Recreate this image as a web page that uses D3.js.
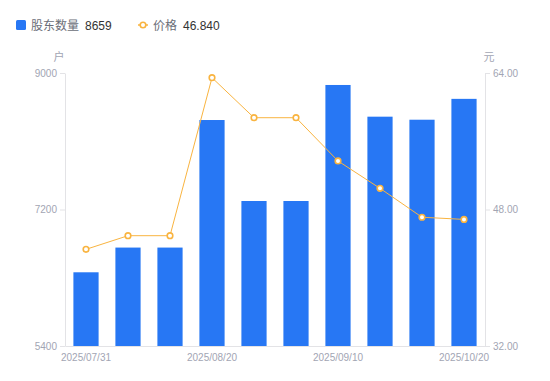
<!DOCTYPE html>
<html>
<head>
<meta charset="utf-8">
<script src="https://cdn.jsdelivr.net/npm/d3@7"></script>
<style>
  body { margin: 0; background: #fff; }
  text { font-family: "Liberation Sans", "Noto Sans CJK SC", sans-serif; }
</style>
</head>
<body>
<div id="chart"></div>
<script>
// Holder count (bars) vs share price (line), dual axis

const dates = ["2025/07/31", "2025/08/08", "2025/08/10", "2025/08/20", "2025/08/29",
  "2025/08/31", "2025/09/10", "2025/09/19", "2025/09/30", "2025/10/20"];
const holders = [6372, 6698, 6698, 8380, 7312, 7312, 8842, 8424, 8384, 8659];
const prices = [43.33, 44.93, 44.93, 63.45, 58.76, 58.76, 53.69, 50.48, 47.09, 46.84];
const leftTicks = [5400, 7200, 9000];
const rightTicks = [32, 48, 64];
const shownDates = ["2025/07/31", "2025/08/20", "2025/09/10", "2025/10/20"];

const w = 550, h = 381;
const pT = 73, pR = 65, pB = 35, pL = 65; // padding, clockwise from top

const barColor = "#2777f4";
const lineColor = "#f9b440";
const axisColor = "#e3e3e6";
const labelColor = "#a2a5b3";

const svg = d3.select("#chart").append("svg")
  .attr("width", w)
  .attr("height", h);

// Scales
const x = d3.scaleBand()
  .domain(dates)
  .range([pL, w - pR])
  .paddingInner(0.4)
  .paddingOuter(0.2);

const yL = d3.scaleLinear().domain([5400, 9000]).range([h - pB, pT]);
const yR = d3.scaleLinear().domain([32, 64]).range([h - pB, pT]);

// Bars
svg.append("g").selectAll("rect")
  .data(holders)
  .enter()
  .append("rect")
  .attr("x", (d, i) => x(dates[i]))
  .attr("y", d => yL(d))
  .attr("width", x.bandwidth())
  .attr("height", d => yL(5400) - yL(d))
  .attr("fill", barColor);

// Axes
function styleAxis(g) {
  g.selectAll(".domain").attr("stroke", axisColor);
  g.selectAll(".tick line").attr("stroke", axisColor);
  g.selectAll(".tick text")
    .attr("fill", labelColor)
    .style("font-size", "10px")
    .style("font-family", "'Liberation Sans', sans-serif");
}

svg.append("g")
  .attr("transform", `translate(0 ${h - pB})`)
  .call(d3.axisBottom(x).tickValues(shownDates).tickSize(0).tickSizeOuter(0).tickPadding(8))
  .call(styleAxis);

svg.append("g")
  .attr("transform", `translate(${pL} 0)`)
  .call(d3.axisLeft(yL).tickValues(leftTicks).tickFormat(d3.format("d"))
    .tickSize(5).tickSizeOuter(0).tickPadding(3))
  .call(styleAxis);

svg.append("g")
  .attr("transform", `translate(${w - pR} 0)`)
  .call(d3.axisRight(yR).tickValues(rightTicks).tickFormat(d3.format(".2f"))
    .tickSize(5).tickSizeOuter(0).tickPadding(3))
  .call(styleAxis);

// Unit labels
svg.append("text")
  .attr("x", 59).attr("y", 61)
  .attr("text-anchor", "middle")
  .attr("fill", labelColor)
  .style("font-size", "11px")
  .text("户");

svg.append("text")
  .attr("x", 489).attr("y", 61)
  .attr("text-anchor", "middle")
  .attr("fill", labelColor)
  .style("font-size", "11px")
  .text("元");

// Price line
const cx = i => x(dates[i]) + x.bandwidth() / 2;

svg.append("path")
  .datum(prices)
  .attr("fill", "none")
  .attr("stroke", lineColor)
  .attr("stroke-width", 1)
  .attr("d", d3.line().x((d, i) => cx(i)).y(d => yR(d)));

svg.append("g").selectAll("circle")
  .data(prices)
  .enter()
  .append("circle")
  .attr("cx", (d, i) => cx(i))
  .attr("cy", d => yR(d))
  .attr("r", 2.8)
  .attr("fill", "#fff")
  .attr("stroke", lineColor)
  .attr("stroke-width", 1.6);

// Legend
const legend = svg.append("g").attr("transform", "translate(16 25)");

legend.append("rect")
  .attr("x", 0).attr("y", -5)
  .attr("width", 10).attr("height", 10)
  .attr("rx", 1.5)
  .attr("fill", barColor);

legend.append("text")
  .attr("x", 15).attr("y", 4.5)
  .attr("fill", "#6b6e78")
  .style("font-size", "12px")
  .text("股东数量");

legend.append("text")
  .attr("x", 69).attr("y", 4.5)
  .attr("fill", "#333")
  .style("font-size", "12px")
  .text(holders[holders.length - 1]);

legend.append("line")
  .attr("x1", 122).attr("x2", 132)
  .attr("y1", 0).attr("y2", 0)
  .attr("stroke", lineColor)
  .attr("stroke-width", 1.5);

legend.append("circle")
  .attr("cx", 127).attr("cy", 0)
  .attr("r", 2.8)
  .attr("fill", "#fff")
  .attr("stroke", lineColor)
  .attr("stroke-width", 1.6);

legend.append("text")
  .attr("x", 137).attr("y", 4.5)
  .attr("fill", "#6b6e78")
  .style("font-size", "12px")
  .text("价格");

legend.append("text")
  .attr("x", 167).attr("y", 4.5)
  .attr("fill", "#333")
  .style("font-size", "12px")
  .text(d3.format(".3f")(prices[prices.length - 1]));
</script>
</body>
</html>
